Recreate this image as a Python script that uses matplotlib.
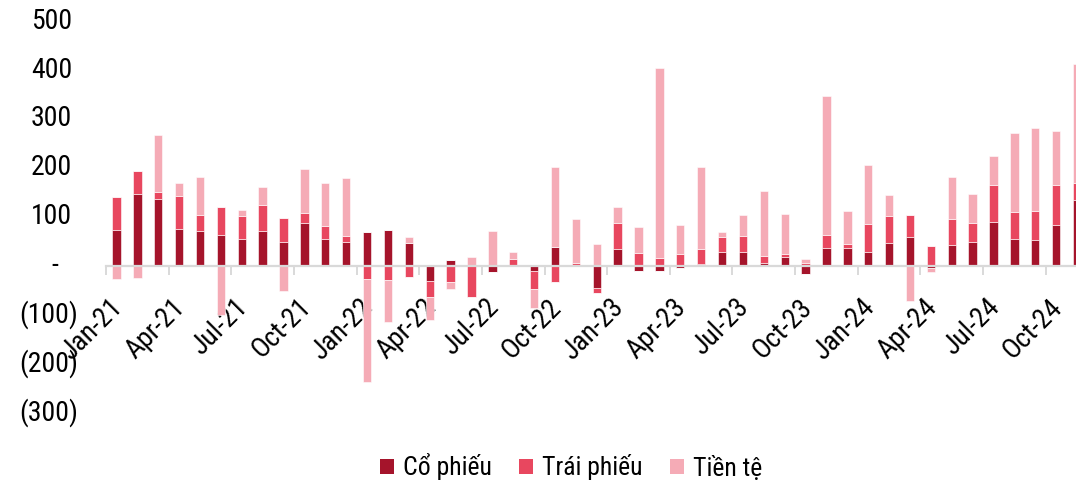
import numpy as np
import matplotlib
matplotlib.use("Agg")
import matplotlib.pyplot as plt
from matplotlib import font_manager
from matplotlib.ticker import FixedLocator
from matplotlib.patches import Patch
import matplotlib.transforms as mtransforms

# ---------------- data ----------------
months = ["Jan-21", "Feb-21", "Mar-21", "Apr-21", "May-21", "Jun-21", "Jul-21", "Aug-21", "Sep-21", "Oct-21", "Nov-21", "Dec-21",
          "Jan-22", "Feb-22", "Mar-22", "Apr-22", "May-22", "Jun-22", "Jul-22", "Aug-22", "Sep-22", "Oct-22", "Nov-22", "Dec-22",
          "Jan-23", "Feb-23", "Mar-23", "Apr-23", "May-23", "Jun-23", "Jul-23", "Aug-23", "Sep-23", "Oct-23", "Nov-23", "Dec-23",
          "Jan-24", "Feb-24", "Mar-24", "Apr-24", "May-24", "Jun-24", "Jul-24", "Aug-24", "Sep-24", "Oct-24", "Nov-24"]

co_phieu = [74, 147, 137, 76, 70, 63, 55, 70, 49, 88, 55, 49,
            68, 72, 46, -31, 11, 2, -12, 0, -10, 39, 0, -46,
            35, -10, -10, -5, 3, 27, 27, 6, 18, -17, 37, 37,
            29, 47, 59, -4, 43, 49, 90, 55, 53, 84, 135]
trai_phieu = [66, 47, 14, 66, 33, 58, 46, 54, 49, 20, 26, 12,
              -27, -29, -24, -34, -33, -65, 0, 14, -38, -33, 5, -9,
              52, 26, 16, 24, 32, 31, 34, 14, 6, 5, 26, 8,
              57, 54, 44, 41, 53, 39, 75, 55, 59, 82, 34]
tien_te = [-28, -25, 116, 27, 79, -101, 12, 36, -51, 90, 88, 118,
           -210, -86, 12, -47, -15, 15, 70, 14, -38, 162, 91, 44,
           34, 54, 389, 60, 166, 10, 43, 133, 82, 9, 284, 67,
           119, 43, -72, -8, 85, 58, 59, 161, 169, 109, 244]

series_names = ["Cổ phiếu", "Trái phiếu", "Tiền tệ"]
series_colors = ["#a5142b", "#e8475f", "#f5abb6"]
y_ticks = [-300, -200, -100, 0, 100, 200, 300, 400, 500]

# ---------------- fonts ----------------
avail = {f.name for f in font_manager.fontManager.ttflist}
prefs = ["Liberation Sans Narrow", "Arial Narrow", "Roboto Condensed", "Archivo Narrow",
         "Fira Sans Condensed", "PT Sans Narrow", "IBM Plex Sans Condensed"]
narrow = [f for f in prefs if f in avail][:1]
plt.rcParams["font.family"] = narrow + ["DejaVu Sans"]

W, H = 1076, 482
fig = plt.figure(figsize=(W / 100, H / 100), dpi=100)
ax_left = 106 / W
ax_bottom = 1 - 412.4 / H
ax_top = 1 - 21.2 / H
ax = fig.add_axes([ax_left, ax_bottom, 1 - ax_left, ax_top - ax_bottom])

x = np.arange(len(months))
pos_bottom = np.zeros(len(months))
neg_bottom = np.zeros(len(months))
for vals, col in zip([co_phieu, trai_phieu, tien_te], series_colors):
    v = np.array(vals, dtype=float)
    pos = np.where(v > 0, v, 0)
    neg = np.where(v < 0, v, 0)
    ax.bar(x, pos, 0.4, bottom=pos_bottom, color=col, edgecolor="white", linewidth=0.4, zorder=3)
    ax.bar(x, neg, 0.4, bottom=neg_bottom, color=col, edgecolor="white", linewidth=0.4, zorder=3)
    pos_bottom += pos
    neg_bottom += neg

ax.set_xlim(-0.5, 45.95)
ax.set_ylim(-300, 500)

for s in ["top", "right", "left"]:
    ax.spines[s].set_visible(False)
ax.spines["bottom"].set_position(("data", 0))
ax.spines["bottom"].set_color("#d9d9d9")
ax.spines["bottom"].set_linewidth(1.6)
ax.spines["bottom"].set_zorder(4)

# x ticks: labels at every third month, tick marks at category boundaries
lab_idx = list(range(0, len(months), 3))
ax.set_xticks(lab_idx)
ax.set_xticklabels([months[i] for i in lab_idx], rotation=45, ha="right", va="center",
                   rotation_mode="anchor", fontsize=20)
ax.tick_params(axis="x", which="major", length=0, pad=27)
ax.xaxis.set_minor_locator(FixedLocator([i - 0.5 for i in lab_idx]))
ax.tick_params(axis="x", which="minor", length=6.5, width=1.4, color="#d9d9d9", direction="out")
for lbl in ax.get_xticklabels():
    lbl.set_transform(lbl.get_transform() + mtransforms.ScaledTranslation(0.02, 0, fig.dpi_scale_trans))

# y ticks in accounting style
ax.set_yticks([])
blend = mtransforms.blended_transform_factory(ax.transAxes, ax.transData)
for v in y_ticks:
    if v > 0:
        s, xpx = f"{v}", 72
    elif v < 0:
        s, xpx = f"({-v})", 78
    else:
        s, xpx = "-", 58
    tr = blend + mtransforms.ScaledTranslation(-(106 - xpx) / 100, 0, fig.dpi_scale_trans)
    ax.text(0, v, s, transform=tr, ha="right", va="center", fontsize=20, color="black")

handles = [Patch(facecolor=c, edgecolor="none") for c in series_colors]
fig.legend(handles, series_names, loc="center", bbox_to_anchor=(571 / W, 1 - 467 / H), ncol=3,
           frameon=False, fontsize=18.5, handlelength=0.55, handleheight=0.55, handletextpad=0.35,
           columnspacing=1.05)

fig.savefig("out.png", dpi=100)
